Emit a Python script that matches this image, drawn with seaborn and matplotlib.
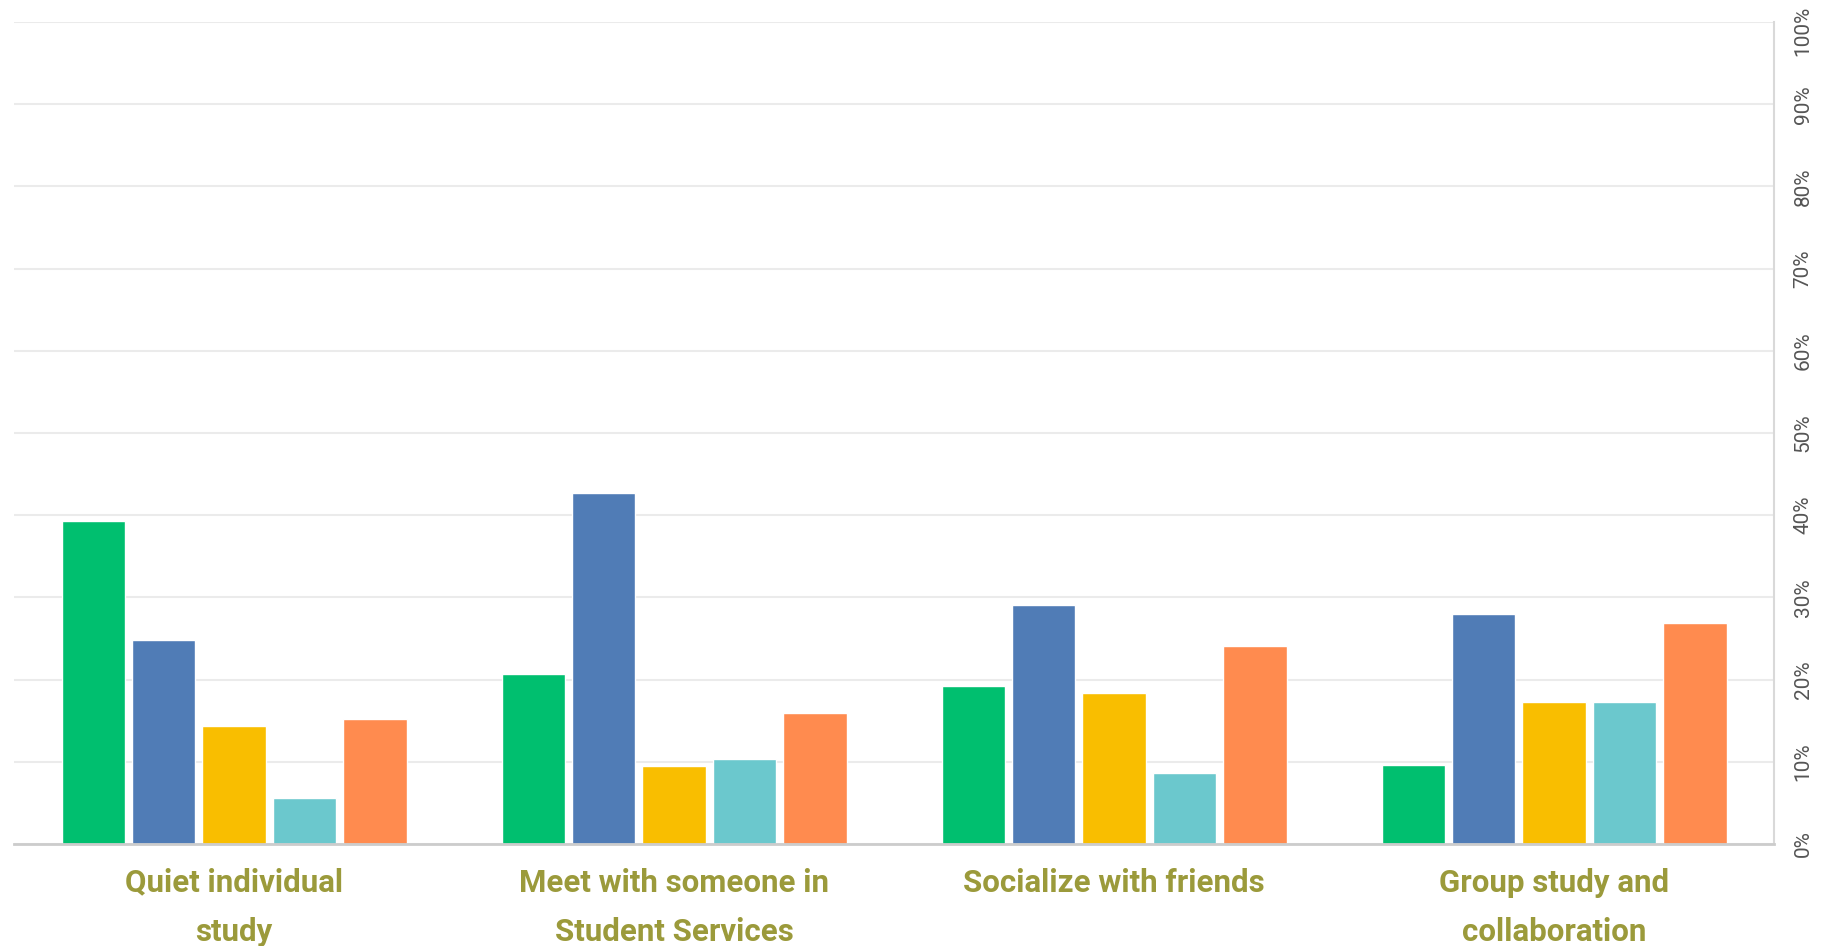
import pandas as pd
import seaborn as sns
import matplotlib.pyplot as plt
from matplotlib.ticker import FuncFormatter, MultipleLocator

sns.set_theme(style="white")
plt.rcParams["font.family"] = ["Roboto", "DejaVu Sans"]

# data (percent of respondents)
categories = [
    "Quiet individual\nstudy",
    "Meet with someone in\nStudent Services",
    "Socialize with friends",
    "Group study and\ncollaboration",
]
series = ["Series 1", "Series 2", "Series 3", "Series 4", "Series 5"]
s1 = [39.3, 20.7, 19.2, 9.6]
s2 = [24.8, 42.7, 29.1, 28.0]
s3 = [14.3, 9.5, 18.4, 17.3]
s4 = [5.6, 10.3, 8.6, 17.3]
s5 = [15.2, 16.0, 24.1, 26.9]
colors = ["#00BF6F", "#507CB6", "#F9BE00", "#6BC8CD", "#FF8B4F"]

rows = []
for name, vals in zip(series, [s1, s2, s3, s4, s5]):
    for cat, v in zip(categories, vals):
        rows.append({"category": cat, "series": name, "value": v})
df = pd.DataFrame(rows)

fig = plt.figure(figsize=(18.22, 9.46), dpi=100)
ax = fig.add_axes([0.0077, 0.1078, 0.9660, 0.8689])

sns.barplot(
    data=df, x="category", y="value", hue="series",
    order=categories, hue_order=series, palette=colors,
    width=0.8, gap=0.1, saturation=1, legend=False, ax=ax,
)

ax.set_ylim(0, 100)
ax.set_xlim(-0.5, 3.5)
ax.yaxis.set_major_locator(MultipleLocator(10))
# top label is drawn separately below so it is not cut off
ax.yaxis.set_major_formatter(
    FuncFormatter(lambda v, p: "" if v >= 100 else f"{int(v)}%"))
ax.yaxis.tick_right()
ax.grid(axis="y", color="#ebebeb", linewidth=1.5)
ax.set_axisbelow(True)

for side in ["top", "left"]:
    ax.spines[side].set_visible(False)
ax.spines["right"].set_color("#d9d9d9")
ax.spines["right"].set_linewidth(1.5)
ax.spines["bottom"].set_color("#cccccc")
ax.spines["bottom"].set_linewidth(2)

ax.tick_params(axis="y", length=0, pad=14, labelsize=15, labelcolor="#555555",
               labelrotation=90)
for lbl in ax.get_yticklabels():
    lbl.set_va("center")
ax.annotate("100%", xy=(1, 100), xycoords=("axes fraction", "data"),
            xytext=(14, -6), textcoords="offset points", rotation=90,
            ha="left", va="center", fontsize=15, color="#555555")

ax.tick_params(axis="x", length=0, pad=17)
ax.set_xticks(range(len(categories)))
ax.set_xticklabels(categories, fontsize=22.5, fontweight="bold",
                   color="#9b9a3b", linespacing=1.8, va="top")

ax.set_xlabel("")
ax.set_ylabel("")

fig.savefig("out.png", dpi=100)
